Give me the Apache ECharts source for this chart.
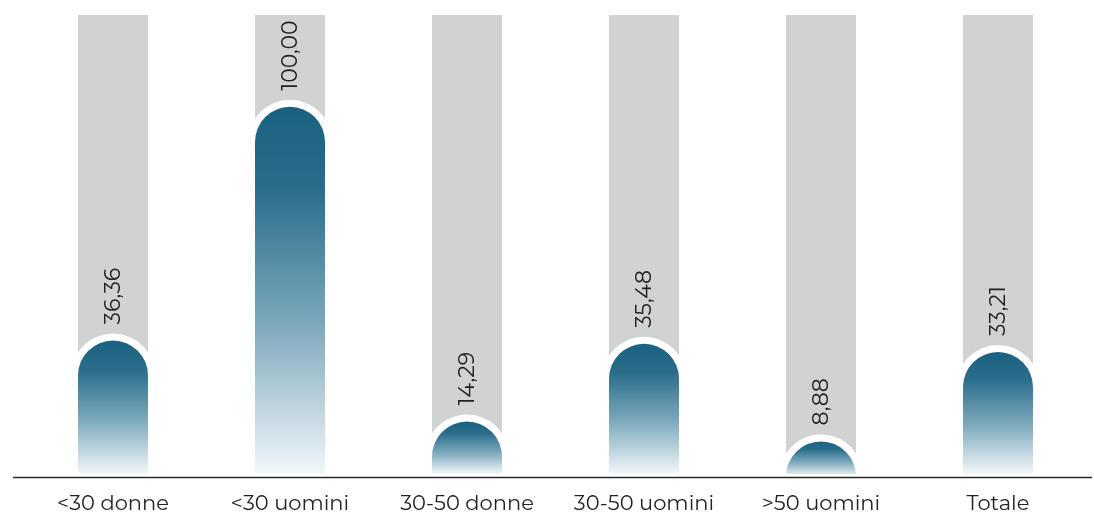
<!DOCTYPE html>
<html>
<head>
<meta charset="utf-8">
<style>
  html, body { margin: 0; padding: 0; background: #ffffff; }
  #chart { width: 1094px; height: 516px; }
</style>
<script src="https://cdn.jsdelivr.net/npm/echarts@6/dist/echarts.min.js"></script>
</head>
<body>
<div id="chart"></div>
<script>
// Categories and percentages
const categories = ['<30 donne', '<30 uomini', '30-50 donne', '30-50 uomini', '>50 uomini', 'Totale'];
const values = [36.36, 100.00, 14.29, 35.48, 8.88, 33.21];
// Full-height track drawn behind each bar
const trackMax = 125;
const trackValues = categories.map(() => trackMax);

const FONT = 'Montserrat, "Noto Sans", Lato, sans-serif';
const fmt = v => v.toFixed(2).replace('.', ',');

const chart = echarts.init(document.getElementById('chart'), null, { renderer: 'canvas' });

const barW = 70;      // width of the coloured pill
const halo = 7;       // white ring around the rounded top

function makeGradient() {
  return new echarts.graphic.LinearGradient(0, 0, 0, 1, [
    { offset: 0, color: '#1a6181' },
    { offset: 0.22, color: '#2a6d8b' },
    { offset: 0.6, color: '#7eaabd' },
    { offset: 1, color: '#f3f7f9' }
  ]);
}

// Rounded pill with white halo; bars shorter than the cap radius are clipped by the baseline
function renderPill(params, api) {
  const v = api.value(1);
  const top = api.coord([api.value(0), v]);
  const base = api.coord([api.value(0), 0]);
  const r = barW / 2;
  const cx = top[0];
  const h = Math.max(base[1] - top[1], r);
  return {
    type: 'group',
    children: [
      {
        type: 'rect',
        shape: { x: cx - r - halo, y: top[1] - halo, width: barW + 2 * halo, height: h + halo, r: [r + halo, r + halo, 0, 0] },
        style: { fill: '#ffffff' }
      },
      {
        type: 'rect',
        shape: { x: cx - r, y: top[1], width: barW, height: h, r: [r, r, 0, 0] },
        style: { fill: makeGradient() }
      }
    ]
  };
}

// Vertical value label above each pill
function renderLabel(params, api) {
  const v = api.value(1);
  const top = api.coord([api.value(0), v]);
  return {
    type: 'text',
    x: top[0] + 1,
    y: top[1] - halo - 9,
    rotation: Math.PI / 2,
    style: {
      text: fmt(v),
      fontSize: 22,
      fontFamily: FONT,
      fill: '#222222',
      align: 'left',
      verticalAlign: 'middle'
    }
  };
}

const pillData = values.map((v, i) => [i, v]);

chart.setOption({
  animation: false,
  grid: { left: 24.5, right: 7.5, top: 15, bottom: 42, containLabel: false, outerBoundsMode: 'none' },
  xAxis: {
    type: 'category',
    data: categories,
    axisLine: { show: false },
    axisTick: { show: false },
    axisLabel: {
      interval: 0,
      hideOverlap: false,
      margin: 19,
      fontSize: 21,
      color: '#222222',
      fontFamily: FONT
    }
  },
  yAxis: {
    type: 'value',
    min: 0,
    max: trackMax,
    show: false,
    splitLine: { show: false }
  },
  graphic: [
    {
      type: 'line',
      shape: { x1: 13, y1: 477.5, x2: 1092, y2: 477.5 },
      style: { stroke: '#2a2a2a', lineWidth: 1.5 },
      z: 10
    }
  ],
  series: [
    {
      name: 'track',
      type: 'bar',
      data: trackValues,
      barWidth: barW,
      itemStyle: { color: '#d1d3d3' },
      silent: true,
      z: 1
    },
    {
      name: 'valore',
      type: 'custom',
      data: pillData,
      clip: true,
      renderItem: renderPill,
      z: 2
    },
    {
      name: 'etichette',
      type: 'custom',
      data: pillData,
      clip: false,
      renderItem: renderLabel,
      z: 3
    }
  ]
});
</script>
</body>
</html>
